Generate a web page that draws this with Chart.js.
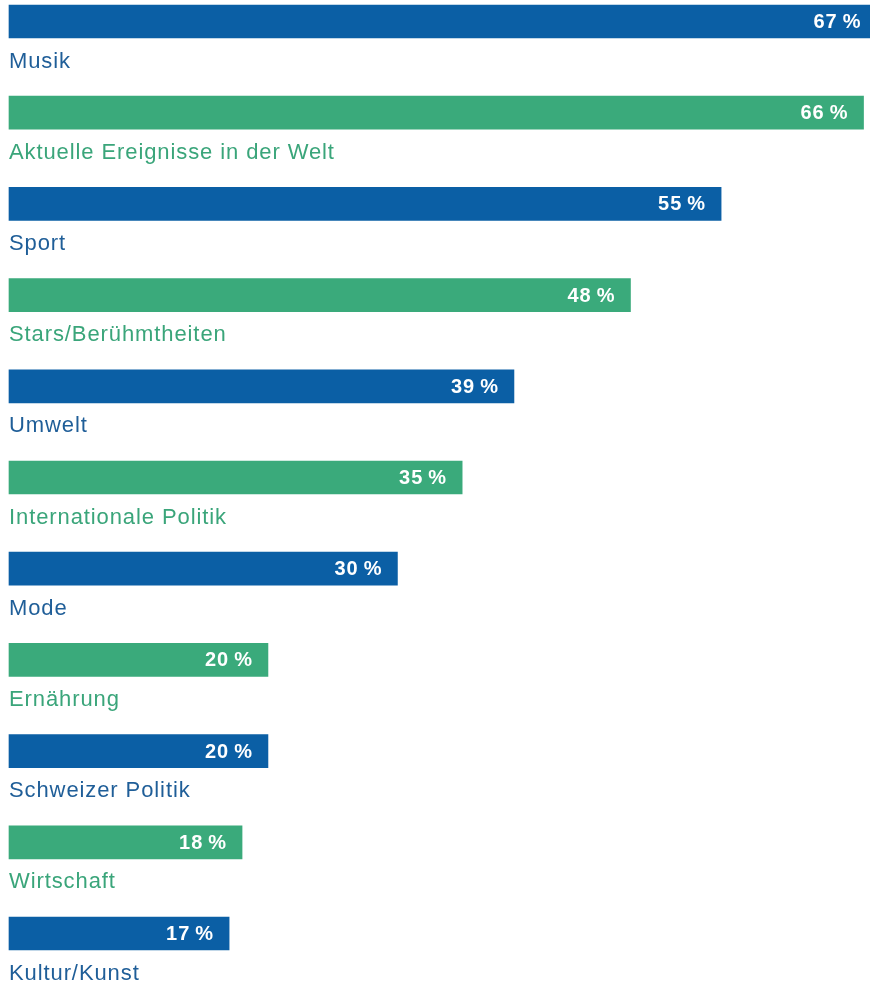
<!DOCTYPE html>
<html>
<head>
<meta charset="utf-8">
<script src="https://cdn.jsdelivr.net/npm/chart.js@4"></script>
<style>
    html, body { margin: 0; padding: 0; background: #fff; }
    #wrap { width: 870px; height: 984px; position: relative; }
</style>
</head>
<body>
<div id="wrap"><canvas id="themenChart"></canvas></div>
<script>
// Themen und Anteile (in %)
const categories = [
    'Musik',
    'Aktuelle Ereignisse in der Welt',
    'Sport',
    'Stars/Berühmtheiten',
    'Umwelt',
    'Internationale Politik',
    'Mode',
    'Ernährung',
    'Schweizer Politik',
    'Wirtschaft',
    'Kultur/Kunst'
];
const values = [67, 66, 55, 48, 39, 35, 30, 20, 20, 18, 17];

// abwechselnd blau / grün
const barColors = ['#0b5fa5', '#3aaa7b'];
const labelColors = ['#1f5e98', '#3aa57a'];

const colorFor = (list) => categories.map((c, i) => list[i % 2]);

// Beschriftungen: Wert im Balken, Kategorie darunter
const labelPlugin = {
    id: 'barLabels',
    afterDatasetsDraw(chart) {
        const ctx = chart.ctx;
        const meta = chart.getDatasetMeta(0);
        ctx.save();
        meta.data.forEach((bar, i) => {
            // Wert
            ctx.font = 'bold 20px "Liberation Sans", Arial, sans-serif';
            ctx.letterSpacing = '1px';
            ctx.fillStyle = '#ffffff';
            ctx.textAlign = 'right';
            ctx.textBaseline = 'middle';
            ctx.fillText(values[i] + '\u2009%', bar.x - 15, bar.y + 1);

            // Kategorie
            ctx.font = '22px "Liberation Sans", Arial, sans-serif';
            ctx.letterSpacing = '0.9px';
            ctx.fillStyle = labelColors[i % 2];
            ctx.textAlign = 'left';
            ctx.fillText(categories[i], chart.chartArea.left, bar.y + 40);
        });
        ctx.restore();
    }
};

const ctx = document.getElementById('themenChart').getContext('2d');
const themenChart = new Chart(ctx, {
    type: 'bar',
    data: {
        labels: categories,
        datasets: [{
            data: values,
            backgroundColor: colorFor(barColors),
            borderWidth: 0,
            barThickness: 33,
            clip: false
        }]
    },
    options: {
        indexAxis: 'y',
        responsive: true,
        maintainAspectRatio: false,
        animation: false,
        layout: {
            padding: { left: 9, right: 0, top: 21.5, bottom: 50.5 }
        },
        plugins: {
            legend: { display: false },
            tooltip: { enabled: false }
        },
        scales: {
            x: {
                display: false,
                min: 0,
                max: 66.5
            },
            y: {
                display: false,
                offset: false
            }
        }
    },
    plugins: [labelPlugin]
});
</script>
</body>
</html>
